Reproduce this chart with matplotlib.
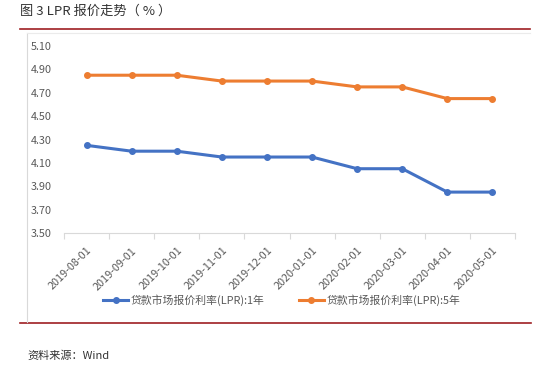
import matplotlib
matplotlib.use("Agg")
import matplotlib.pyplot as plt
from matplotlib.lines import Line2D

plt.rcParams['font.family'] = ['Noto Sans CJK SC', 'DejaVu Sans']

dates = ["2019-08-01", "2019-09-01", "2019-10-01", "2019-11-01", "2019-12-01",
         "2020-01-01", "2020-02-01", "2020-03-01", "2020-04-01", "2020-05-01"]
lpr_1y = [4.25, 4.20, 4.20, 4.15, 4.15, 4.15, 4.05, 4.05, 3.85, 3.85]
lpr_5y = [4.85, 4.85, 4.85, 4.80, 4.80, 4.80, 4.75, 4.75, 4.65, 4.65]
yticks = [3.50, 3.70, 3.90, 4.10, 4.30, 4.50, 4.70, 4.90, 5.10]
series_names = ["贷款市场报价利率(LPR):1年", "贷款市场报价利率(LPR):5年"]

W, H = 547, 369
fig = plt.figure(figsize=(W / 100, H / 100), dpi=100)
ax = fig.add_axes([64 / W, (H - 233) / H, (515 - 64) / W, (233 - 46) / H])

x = list(range(len(dates)))
ax.plot(x, lpr_1y, color="#4472C4", lw=2.2, marker="o", ms=4, label=series_names[0])
ax.plot(x, lpr_5y, color="#ED7D31", lw=2.2, marker="o", ms=4, label=series_names[1])

ax.set_xlim(-0.5, len(dates) - 0.5)
ax.set_ylim(3.5, 5.1)
ax.set_yticks(yticks)
ax.set_yticklabels([f"{v:.2f}" for v in yticks], fontsize=7.8, color="#595959")
ax.tick_params(axis="y", length=0, pad=9)

ax.set_xticks(x)
ax.set_xticklabels(dates, rotation=45, ha="right", va="top", rotation_mode="anchor",
                   fontsize=7.8, color="#595959")
ax.tick_params(axis="x", length=0, pad=9)
ax.set_xticks([i - 0.5 for i in range(len(dates) + 1)], minor=True)
ax.tick_params(axis="x", which="minor", length=4, color="#D9D9D9", width=0.8)

for s in ["top", "right", "left"]:
    ax.spines[s].set_visible(False)
ax.spines["bottom"].set_color("#D9D9D9")
ax.spines["bottom"].set_linewidth(0.8)

handles, labels = ax.get_legend_handles_labels()
fig.legend(handles, labels, loc="center", bbox_to_anchor=(0.515, (H - 300) / H), ncol=2,
           frameon=False, fontsize=7.8, handlelength=2.3, handletextpad=0.2,
           columnspacing=3.2, labelcolor="#595959")

# decorative lines
fig.add_artist(Line2D([20 / W, 530 / W], [(H - 29) / H] * 2, color="#9E1F22", lw=1.2))
fig.add_artist(Line2D([20 / W, 531 / W], [(H - 323) / H] * 2, color="#9E1F22", lw=1.2))
fig.add_artist(Line2D([27 / W, 27 / W], [(H - 33) / H, (H - 322) / H], color="#D9D9D9", lw=0.8))
fig.add_artist(Line2D([27 / W, 530 / W], [(H - 33) / H] * 2, color="#EBEBEB", lw=0.8))

fig.text(20 / W, (H - 11) / H, "图 3 LPR 报价走势（ % ）", fontsize=9.5, color="#333333",
         ha="left", va="center")
fig.text(27 / W, (H - 356) / H, "资料来源：Wind", fontsize=8, color="#333333",
         ha="left", va="center")

fig.savefig("out.png", dpi=100)
